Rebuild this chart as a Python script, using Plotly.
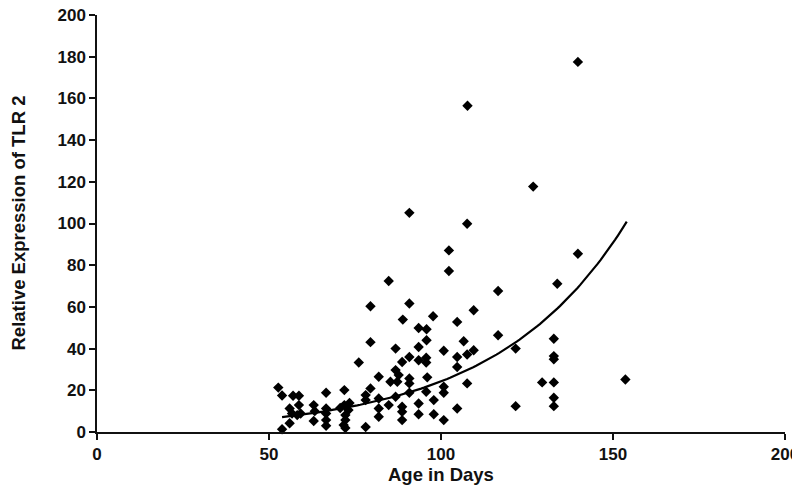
import numpy as np
import plotly.graph_objects as go

# Age in days (x) and relative expression of TLR 2 (y)
age = [52.7, 53.8, 53.8, 56.0, 56.0, 56.7, 57.0, 58.2, 58.7, 58.7, 59.2,
       63.0, 63.3, 63.0,
       66.6, 66.6, 66.6, 66.6, 66.6,
       71.9, 71.9, 73.4, 70.7, 73.1, 72.2, 72.2, 71.7, 72.2,
       76.1, 78.1, 78.1, 78.1, 79.5, 79.5, 79.5, 81.9, 81.9, 81.9, 81.9,
       84.8, 84.8, 85.3, 86.8, 86.8, 87.3, 86.8, 87.7, 88.7, 88.7, 88.7, 88.7, 88.9,
       90.8, 90.8, 90.8, 90.8, 90.8, 90.8,
       93.5, 93.5, 93.5, 93.5, 93.5,
       95.7, 95.7, 95.8, 95.8, 96.0, 95.7, 97.7, 97.9, 97.9,
       100.8, 100.8, 100.8, 100.8, 102.3, 102.3,
       104.7, 104.7, 104.7, 104.7, 106.6, 107.6, 107.6, 107.6, 107.7,
       109.5, 109.5, 116.6, 116.6, 121.7, 121.7, 126.8, 129.4,
       132.8, 132.8, 132.8, 132.8, 132.8, 132.8, 133.8,
       139.8, 139.8, 153.6]
tlr2 = [21.3, 17.5, 1.3, 4.2, 11.3, 8.9, 17.4, 8.1, 17.4, 12.9, 8.9,
        12.9, 10.0, 5.3,
        18.8, 11.3, 8.9, 5.7, 3.0,
        20.1, 12.9, 13.9, 11.5, 10.5, 8.1, 5.7, 3.3, 1.9,
        33.3, 17.7, 15.3, 2.4, 20.9, 43.1, 60.3, 26.5, 16.1, 11.3, 7.3,
        72.4, 12.9, 24.1, 40.0, 29.7, 24.1, 16.9, 27.3, 33.6, 12.1, 9.7, 5.7, 53.9,
        105.1, 61.6, 36.0, 25.7, 23.3, 18.8,
        49.9, 40.8, 34.4, 13.7, 8.5,
        35.6, 33.3, 49.3, 44.0, 26.2, 19.3, 55.5, 15.3, 8.5,
        39.0, 21.7, 18.8, 5.7, 87.1, 77.2,
        52.8, 36.0, 31.2, 11.3, 43.5, 99.9, 37.2, 23.3, 156.5,
        58.4, 39.2, 67.6, 46.4, 40.0, 12.4, 117.7, 23.8,
        44.7, 36.4, 34.9, 23.8, 16.4, 12.4, 71.1,
        177.5, 85.5, 25.2]

# Exponential trendline (y = a * exp(b * x))
trend_a = 1.73
trend_b = 0.0264
trend_x_start = 53.8
trend_x_end = 154.0

x_ticks = [0, 50, 100, 150, 200]
y_ticks = [0, 20, 40, 60, 80, 100, 120, 140, 160, 180, 200]

tx = np.linspace(trend_x_start, trend_x_end, 120)
ty = trend_a * np.exp(trend_b * tx)

fig = go.Figure()
fig.add_trace(go.Scatter(x=age, y=tlr2, mode="markers",
                         marker=dict(symbol="diamond", size=8, color="black",
                                     line=dict(width=0)),
                         showlegend=False, cliponaxis=False))
fig.add_trace(go.Scatter(x=tx, y=ty, mode="lines",
                         line=dict(color="black", width=2.2),
                         showlegend=False))

font_fam = "Liberation Sans, Arial, sans-serif"
axis_common = dict(showgrid=False, zeroline=False, showline=True, linecolor="#111111",
                   linewidth=1.5, ticks="outside", ticklen=6, tickwidth=1.5,
                   tickcolor="#111111", tickfont=dict(size=17), automargin=False,
                   ticklabeloverflow="allow")
fig.update_layout(
    width=800, height=485,
    margin=dict(l=89, r=23, t=7, b=61),
    paper_bgcolor="white", plot_bgcolor="white",
    font=dict(family=font_fam, color="#111111"),
    xaxis=dict(range=[0, 200], tickvals=x_ticks,
               ticktext=[f"<b>{v}</b>" for v in x_ticks], **axis_common),
    yaxis=dict(range=[0, 200], tickvals=y_ticks,
               ticktext=[f"<b>{v}</b>" for v in y_ticks], **axis_common),
    annotations=[
        dict(text="<b>Age in Days</b>", xref="paper", yref="paper", x=0.5, y=-0.0,
             yshift=-42, yanchor="middle", xanchor="center", showarrow=False,
             font=dict(size=18.5)),
        dict(text="<b>Relative Expression of TLR 2</b>", xref="paper", yref="paper",
             x=0, xshift=-79, y=0.5, textangle=-90, xanchor="center", yanchor="middle",
             showarrow=False, font=dict(size=18.5)),
    ],
)

fig.write_html("out.html")
